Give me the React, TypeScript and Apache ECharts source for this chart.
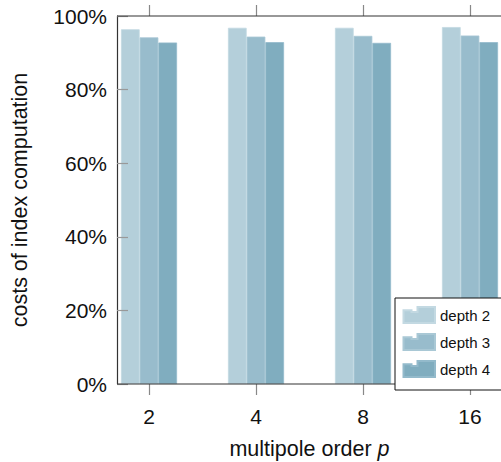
import React, { useEffect, useRef } from "react";
import * as echarts from "echarts";

const categories = ["2", "4", "8", "16"];
const seriesNames = ["depth 2", "depth 3", "depth 4"];
const depth2 = [0.964, 0.968, 0.968, 0.97];
const depth3 = [0.942, 0.944, 0.946, 0.947];
const depth4 = [0.928, 0.929, 0.927, 0.929];
const colors = ["#b4cfda", "#98bccc", "#80adbf"];
const borderColors = ["#c3d9e2", "#a9c8d5", "#93bacb"];
const yTicks = [0, 0.2, 0.4, 0.6, 0.8, 1];

const FONT = "'Liberation Sans', Arial, Helvetica, sans-serif";
const ICON = "path://M0,3.3L8,3.3L8,5L14,5L14,0L31.5,0L31.5,16L0,16Z";

export default function App() {
  const ref = useRef<HTMLDivElement>(null);
  useEffect(() => {
    if (!ref.current) return;
    const chart = echarts.init(ref.current, null, { renderer: "svg" });
    const values = [depth2, depth3, depth4];
    const top = 16;
    const height = 368;
    const gridLeft = 95.5;
    const frameLeft = 117;
    chart.setOption({
      animation: false,
      textStyle: { fontFamily: FONT },
      grid: [{ left: gridLeft, top, width: 428, height, containLabel: false, outerBoundsMode: "none" }],
      graphic: [
        { type: "line", z: 10, shape: { x1: frameLeft, y1: top, x2: 510, y2: top }, style: { stroke: "#333", lineWidth: 1.2 } },
        { type: "line", z: 10, shape: { x1: frameLeft, y1: top + height, x2: 510, y2: top + height }, style: { stroke: "#333", lineWidth: 1.2 } },
      ],
      xAxis: [
        {
          type: "category", data: categories, position: "bottom",
          axisLine: { show: false },
          axisTick: { show: true, alignWithLabel: true, length: 11, lineStyle: { color: "#888", width: 1.2 } },
          axisLabel: { fontSize: 21, color: "#111", margin: 22, fontFamily: FONT },
          name: "multipole order {i|p}",
          nameLocation: "middle",
          nameGap: 54,
          nameTextStyle: {
            fontSize: 21.5, color: "#111", fontFamily: FONT,
            rich: { i: { fontSize: 21.5, fontStyle: "italic", color: "#111", fontFamily: FONT } },
          },
        },
        {
          type: "category", data: categories, position: "top",
          axisLine: { show: false },
          axisTick: { show: true, alignWithLabel: true, length: 11, lineStyle: { color: "#888", width: 1.2 } },
          axisLabel: { show: false },
        },
      ],
      yAxis: [
        {
          type: "value", min: 0, max: 1, interval: 0.2, z: 5,
          offset: -(frameLeft - gridLeft),
          axisLine: { show: true, lineStyle: { color: "#333", width: 1.2 } },
          axisTick: { show: true, inside: true, length: 11, lineStyle: { color: "#999", width: 1.2 } },
          axisLabel: {
            fontSize: 21, color: "#111", margin: 10, fontFamily: FONT,
            formatter: (v: number) => (yTicks.some((t) => Math.abs(t - v) < 1e-6) ? Math.round(v * 100) + "%" : ""),
          },
          splitLine: { show: false },
          name: "costs of index computation",
          nameLocation: "middle",
          nameGap: 86,
          nameTextStyle: { fontSize: 21.5, color: "#111", fontFamily: FONT },
        },
      ],
      legend: {
        data: seriesNames,
        orient: "vertical",
        left: 395,
        top: 298,
        z: 20,
        icon: ICON,
        itemWidth: 31.5,
        itemHeight: 16,
        itemGap: 9,
        padding: [8, 30, 12, 7.5],
        backgroundColor: "#fff",
        borderColor: "#111",
        borderWidth: 1,
        borderRadius: 0,
        textStyle: { fontSize: 15, color: "#111", fontFamily: FONT },
      },
      series: seriesNames.map((name, i) => ({
        name,
        type: "bar",
        data: values[i],
        barWidth: 18.7,
        barGap: "0%",
        itemStyle: { color: colors[i], borderColor: borderColors[i], borderWidth: 0.8 },
      })),
    });
    return () => chart.dispose();
  }, []);
  return (
    <div
      ref={ref}
      style={{ position: "absolute", left: 0, top: 0, width: 501, height: 462 }}
    />
  );
}
